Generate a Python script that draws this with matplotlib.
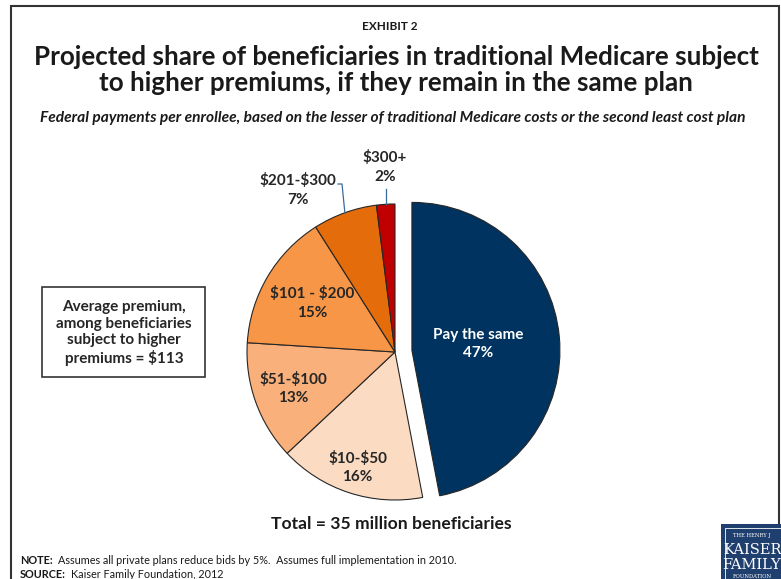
import numpy as np
import matplotlib.pyplot as plt
from matplotlib.patches import Rectangle

plt.rcParams["text.parse_math"] = False

# Доли бенефициаров по приросту премии
categories = ["Pay the same", "$10-$50", "$51-$100", "$101 - $200", "$201-$300", "$300+"]
shares = [47, 16, 13, 15, 7, 2]
colors = ["#00335F", "#FBDCC3", "#F9B07A", "#F79646", "#E46C0A", "#C00000"]
text_colors = ["white", "#262626", "#262626", "#262626", "#262626", "#262626"]
label_radius = [0.45, 0.82, 0.73, 0.65, None, None]

W, H = 781, 579
FONT = "Lato"
DARK = "#262626"
LABEL_SIZE = 11


def Y(y):
    """Перевод координаты от верхнего края в координату оси."""
    return H - y


fig = plt.figure(figsize=(W / 100, H / 100), dpi=100)
ax = fig.add_axes([0, 0, 1, 1])

cx, cy, r = 395, Y(352), 148
wedges, _ = ax.pie(
    shares,
    colors=colors,
    startangle=90,
    counterclock=False,
    explode=[17, 0, 0, 0, 0, 0],
    center=(cx, cy),
    radius=r,
    wedgeprops=dict(edgecolor=DARK, linewidth=0.8),
)
ax.set_xlim(0, W)
ax.set_ylim(0, H)
ax.set_aspect("auto")
ax.axis("off")

# подписи внутри секторов
for w, name, val, k, tc in zip(wedges, categories, shares, label_radius, text_colors):
    if k is None:
        continue
    th = np.deg2rad((w.theta1 + w.theta2) / 2)
    x0, y0 = w.center
    tx = x0 + k * r * np.cos(th)
    ty = y0 + k * r * np.sin(th)
    ax.text(tx, ty, f"{name}\n{val}%", ha="center", va="center", color=tc,
            fontsize=LABEL_SIZE, fontweight="bold", family=FONT, linespacing=1.4)

# выноски для узких секторов
leader = "#3A6A9C"
w = wedges[4]
th = np.deg2rad((w.theta1 + w.theta2) / 2)
ex, ey = cx + r * np.cos(th), cy + r * np.sin(th)
ax.plot([338, 342, ex], [Y(184), Y(184), ey], color=leader, linewidth=0.9)
ax.text(298, Y(190), f"{categories[4]}\n{shares[4]}%", ha="center", va="center",
        color=DARK, fontsize=LABEL_SIZE, fontweight="bold", family=FONT, linespacing=1.4)

w = wedges[5]
th = np.deg2rad((w.theta1 + w.theta2) / 2)
ex, ey = cx + r * np.cos(th), cy + r * np.sin(th)
ax.plot([ex, ex], [Y(189), ey], color=leader, linewidth=0.9)
ax.text(385, Y(167), f"{categories[5]}\n{shares[5]}%", ha="center", va="center",
        color=DARK, fontsize=LABEL_SIZE, fontweight="bold", family=FONT, linespacing=1.4)

# рамка вокруг слайда
ax.plot([11, 11, 779, 779], [0, Y(6), Y(6), Y(523)], color="#333333", linewidth=1.5,
        solid_joinstyle="miter")

# заголовки
ax.text(390, Y(26), "EXHIBIT 2", ha="center", va="center", fontsize=8.5,
        fontweight="bold", family=FONT, color="#1a1a1a")
ax.text(396, Y(70), "Projected share of beneficiaries in traditional Medicare subject\n"
        "to higher premiums, if they remain in the same plan", ha="center", va="center",
        fontsize=18.7, fontweight="bold", family=FONT, color="#1a1a1a", linespacing=1.12)
ax.text(393, Y(118), "Federal payments per enrollee, based on the lesser of traditional "
        "Medicare costs or the second least cost plan", ha="center", va="center",
        fontsize=11.2, fontweight="bold", style="italic", family=FONT, color="#1a1a1a")

# блок со средней премией
ax.add_patch(Rectangle((42, Y(377)), 163, 90, facecolor="white", edgecolor="#333333",
                       linewidth=1.2))
ax.text(124, Y(333), "Average premium,\namong beneficiaries\nsubject to higher\npremiums = $113",
        ha="center", va="center", fontsize=11, fontweight="bold", family=FONT,
        color=DARK, linespacing=1.2)

ax.text(391, Y(524), "Total = 35 million beneficiaries", ha="center", va="center",
        fontsize=12.6, fontweight="bold", family=FONT, color="#1a1a1a")

# примечания
note = ax.text(20, Y(561), "NOTE:", ha="left", va="center", fontsize=7.8,
               fontweight="bold", family=FONT, color="#1a1a1a")
ax.annotate("Assumes all private plans reduce bids by 5%.  Assumes full "
            "implementation in 2010.", xy=(1, 0.5), xycoords=note, xytext=(4, 0),
            textcoords="offset points", ha="left", va="center", fontsize=7.8,
            family=FONT, color="#1a1a1a")
src = ax.text(20, Y(574), "SOURCE:", ha="left", va="center", fontsize=7.8,
              fontweight="bold", family=FONT, color="#1a1a1a")
ax.annotate("Kaiser Family Foundation, 2012", xy=(1, 0.5), xycoords=src, xytext=(4, 0),
            textcoords="offset points", ha="left", va="center", fontsize=7.8,
            family=FONT, color="#1a1a1a")

# логотип
ax.add_patch(Rectangle((721, 0), 62, Y(524), facecolor="#1F3F6E", edgecolor="none"))
ax.plot([725, 725, 785], [0, Y(528), Y(528)], color="white", linewidth=0.6)
ax.text(752, Y(535), "THE HENRY J", ha="center", va="center", fontsize=3.8,
        family="DejaVu Serif", color="white")
ax.text(752, Y(550), "KAISER", ha="center", va="center", fontsize=10.5,
        family="DejaVu Serif", color="white")
ax.text(752, Y(565), "FAMILY", ha="center", va="center", fontsize=10.5,
        family="DejaVu Serif", color="white")
ax.text(752, Y(577), "FOUNDATION", ha="center", va="center", fontsize=3.8,
        family="DejaVu Serif", color="white")

fig.savefig("out.png", dpi=100)
